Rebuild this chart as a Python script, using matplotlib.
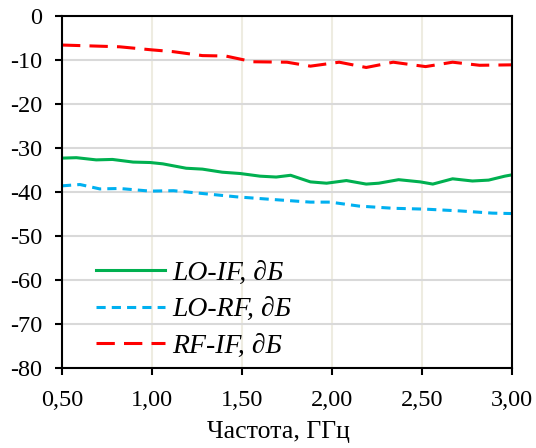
import matplotlib.pyplot as plt
from matplotlib.ticker import FuncFormatter

# frequency (GHz) and isolation (dB)
lo_if_f = [0.50, 0.58, 0.69, 0.78, 0.895, 0.99, 1.06, 1.19, 1.28, 1.39, 1.49, 1.60, 1.69, 1.77,
           1.88, 1.97, 2.08, 2.19, 2.26, 2.37, 2.49, 2.56, 2.67, 2.78, 2.87, 2.96, 3.00]
lo_if = [-32.3, -32.2, -32.7, -32.6, -33.2, -33.3, -33.6, -34.6, -34.8, -35.5, -35.8, -36.4, -36.6, -36.2,
         -37.7, -38.0, -37.4, -38.2, -38.0, -37.2, -37.7, -38.2, -37.0, -37.5, -37.3, -36.4, -36.1]

lo_rf_f = [0.50, 0.60, 0.71, 0.82, 0.99, 1.12, 1.27, 1.47, 1.67, 1.88, 1.99, 2.15, 2.34, 2.52, 2.71, 2.89, 3.00]
lo_rf = [-38.6, -38.3, -39.3, -39.2, -39.8, -39.7, -40.3, -41.1, -41.7, -42.3, -42.3, -43.2, -43.7, -43.9,
         -44.3, -44.8, -44.9]

rf_if_f = [0.50, 0.82, 1.00, 1.117, 1.28, 1.41, 1.56, 1.75, 1.88, 2.04, 2.19, 2.34, 2.52, 2.67, 2.82, 3.00]
rf_if = [-6.6, -7.0, -7.7, -8.1, -9.0, -9.1, -10.4, -10.5, -11.4, -10.5, -11.7, -10.5, -11.5, -10.5, -11.2, -11.1]

x_ticks = [0.5, 1.0, 1.5, 2.0, 2.5, 3.0]
y_ticks = list(range(-80, 1, 10))

plt.rcParams['font.family'] = ['Liberation Serif', 'DejaVu Serif']

fig = plt.figure(figsize=(5.36, 4.48), dpi=100)
ax = fig.add_axes([62 / 536, 1 - 368 / 448, 450 / 536, 352 / 448])

ax.plot(lo_if_f, lo_if, color='#00B050', lw=2.2, label='LO-IF, ∂Б')
ax.plot(lo_rf_f, lo_rf, color='#00B0F0', lw=2.2, ls=(0, (3, 2)), label='LO-RF, ∂Б')
ax.plot(rf_if_f, rf_if, color='#FF0000', lw=2.2, ls=(0, (6, 3)), label='RF-IF, ∂Б')

ax.set_xlim(0.5, 3.0)
ax.set_ylim(-80, 0)
ax.set_xticks(x_ticks)
ax.set_yticks(y_ticks)
ax.xaxis.set_major_formatter(FuncFormatter(lambda v, p: f"{v:.2f}".replace('.', ',')))
ax.yaxis.set_major_formatter(FuncFormatter(lambda v, p: f"{int(v)}"))

ax.grid(axis='x', color='#EEECE1', lw=1.5)
ax.grid(axis='y', color='#D9D9D9', lw=1.5)
ax.set_axisbelow(True)

for s in ax.spines.values():
    s.set_linewidth(1.5)
ax.tick_params(labelsize=17.5, width=1.5, length=5, direction='out')
ax.tick_params(axis='x', pad=11)
ax.tick_params(axis='y', pad=9)
ax.set_xlabel('Частота, ГГц', fontsize=18.5, labelpad=8)
ax.xaxis.set_label_coords(0.482, -0.15)

leg = ax.legend(loc='lower left', bbox_to_anchor=(0.0756, 0.025), frameon=False, borderpad=0,
                borderaxespad=0, prop={'size': 20, 'style': 'italic'}, handlelength=2.5,
                labelspacing=0.41, handletextpad=0.25)

fig.savefig('out.png', dpi=100)
